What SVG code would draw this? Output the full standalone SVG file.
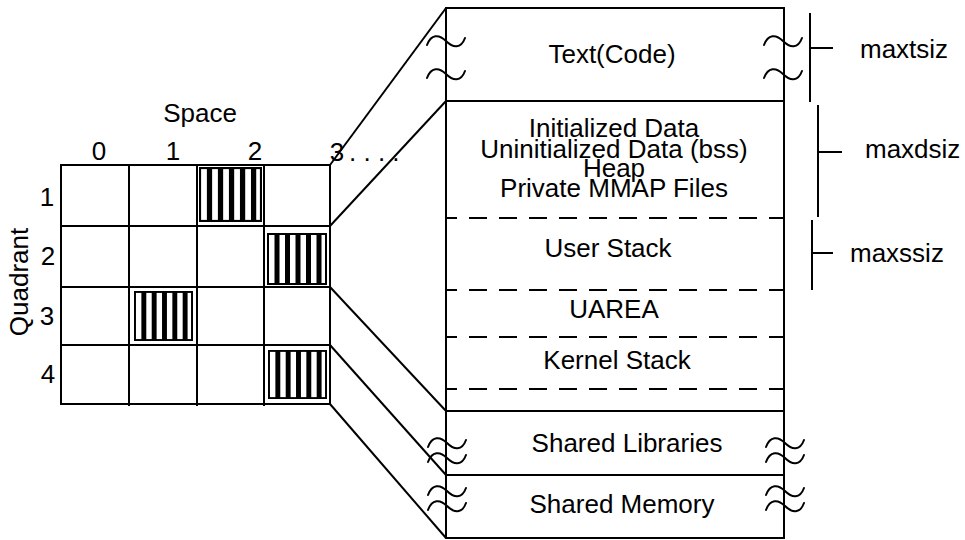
<svg xmlns="http://www.w3.org/2000/svg" xmlns:xlink="http://www.w3.org/1999/xlink" width="965" height="540" viewBox="0 0 965 540">
  <style>
    .ln { stroke: #000; stroke-width: 2; fill: none; }
    .dash { stroke: #000; stroke-width: 2; fill: none; stroke-dasharray: 18 12; stroke-dashoffset: 7; }
    .wave { stroke: #000; stroke-width: 2; fill: none; stroke-linecap: round; }
    .t { font-family: "Liberation Sans", Arial, Helvetica, sans-serif; font-size: 26px; fill: #000; }
    .c { text-anchor: middle; }
  </style>
  <defs>
    <!-- striped (allocated) grid slot -->
    <symbol id="hatch" viewBox="0 0 60 52" preserveAspectRatio="none">
      <rect x="1" y="1" width="58" height="50" fill="#fff" stroke="#000" stroke-width="2"/>
      <g fill="#000">
        <rect x="7.5" y="1" width="5" height="50"/>
        <rect x="18" y="1" width="5" height="50"/>
        <rect x="28.5" y="1" width="5" height="50"/>
        <rect x="39" y="1" width="5" height="50"/>
        <rect x="49.5" y="1" width="5" height="50"/>
      </g>
    </symbol>
    <!-- break mark crossing a box edge -->
    <path id="tilde" d="M0,4 C4,-7 12,-7 19,0 S34,8 38,-3"/>
  </defs>

  <!-- quadrant / space grid -->
  <g id="grid">
    <rect class="ln" x="61" y="165" width="269" height="239"/>
    <path class="ln" d="M129,165 V406 M197,165 V406 M264,165 V406 M61,226 H330 M61,287 H330 M61,345 H330"/>
    <use href="#hatch" x="199" y="167" width="63" height="55"/>
    <use href="#hatch" x="267" y="233" width="60" height="52"/>
    <use href="#hatch" x="134" y="291" width="59" height="50"/>
    <use href="#hatch" x="268" y="350" width="59" height="49"/>
    <text class="t c" x="200" y="122">Space</text>
    <text class="t c" x="99" y="160">0</text>
    <text class="t c" x="173" y="160">1</text>
    <text class="t c" x="255" y="160">2</text>
    <text class="t c" x="337" y="161">3</text>
    <text class="t" x="349" y="161">. . . .</text>
    <text class="t c" x="47" y="206">1</text>
    <text class="t c" x="48" y="265">2</text>
    <text class="t c" x="47" y="325">3</text>
    <text class="t c" x="48" y="383">4</text>
    <text class="t c" transform="translate(28,282) rotate(-90)">Quadrant</text>
  </g>

  <!-- process address space -->
  <g id="text-segment">
    <path class="ln" d="M446,101 V8 H784 V101"/>
    <text class="t c" x="612" y="63">Text(Code)</text>
    <use href="#tilde" class="wave" x="427" y="41"/>
    <use href="#tilde" class="wave" x="427" y="74"/>
    <use href="#tilde" class="wave" x="764" y="41"/>
    <use href="#tilde" class="wave" x="764" y="74"/>
  </g>

  <g id="private-area">
    <path class="ln" d="M446,101 H784 V411 M446,101 V411"/>
    <text class="t c" x="614" y="137">Initialized Data</text>
    <text class="t c" x="614" y="158">Uninitialized Data (bss)</text>
    <text class="t c" x="614" y="177">Heap</text>
    <text class="t c" x="614" y="197">Private MMAP Files</text>
    <line class="dash" x1="446" y1="218" x2="784" y2="218"/>
    <text class="t c" x="608" y="257">User Stack</text>
    <line class="dash" x1="446" y1="290" x2="784" y2="290"/>
    <text class="t c" x="614" y="318">UAREA</text>
    <line class="dash" x1="446" y1="337" x2="784" y2="337"/>
    <text class="t c" x="617" y="369">Kernel Stack</text>
    <line class="dash" x1="446" y1="389" x2="784" y2="389"/>
  </g>

  <g id="shared-libraries">
    <path class="ln" d="M446,411 H784 V475 M446,411 V475"/>
    <text class="t c" x="627" y="452">Shared Libraries</text>
    <use href="#tilde" class="wave" x="428" y="443"/>
    <use href="#tilde" class="wave" x="428" y="458"/>
    <use href="#tilde" class="wave" x="766" y="443"/>
    <use href="#tilde" class="wave" x="766" y="458"/>
  </g>

  <g id="shared-memory">
    <path class="ln" d="M446,475 H784 V538 H446 Z"/>
    <text class="t c" x="622" y="513">Shared Memory</text>
    <use href="#tilde" class="wave" x="428" y="491"/>
    <use href="#tilde" class="wave" x="428" y="506"/>
    <use href="#tilde" class="wave" x="766" y="491"/>
    <use href="#tilde" class="wave" x="766" y="506"/>
  </g>

  <!-- size limits -->
  <g id="maxtsiz">
    <path class="ln" d="M810,13 V102 M810,48 H833"/>
    <text class="t" x="860" y="58">maxtsiz</text>
  </g>
  <g id="maxdsiz">
    <path class="ln" d="M818,105 V217 M818,152 H842"/>
    <text class="t" x="865" y="158">maxdsiz</text>
  </g>
  <g id="maxssiz">
    <path class="ln" d="M812,220 V290 M812,253 H833"/>
    <text class="t" x="850" y="262">maxssiz</text>
  </g>

  <!-- expansion lines from grid to address space -->
  <g id="connectors" class="ln">
    <line x1="330" y1="165" x2="446" y2="8"/>
    <line x1="330" y1="226" x2="446" y2="101"/>
    <line x1="330" y1="287" x2="446" y2="411"/>
    <line x1="330" y1="345" x2="446" y2="475"/>
    <line x1="330" y1="404" x2="446" y2="538"/>
  </g>
</svg>
